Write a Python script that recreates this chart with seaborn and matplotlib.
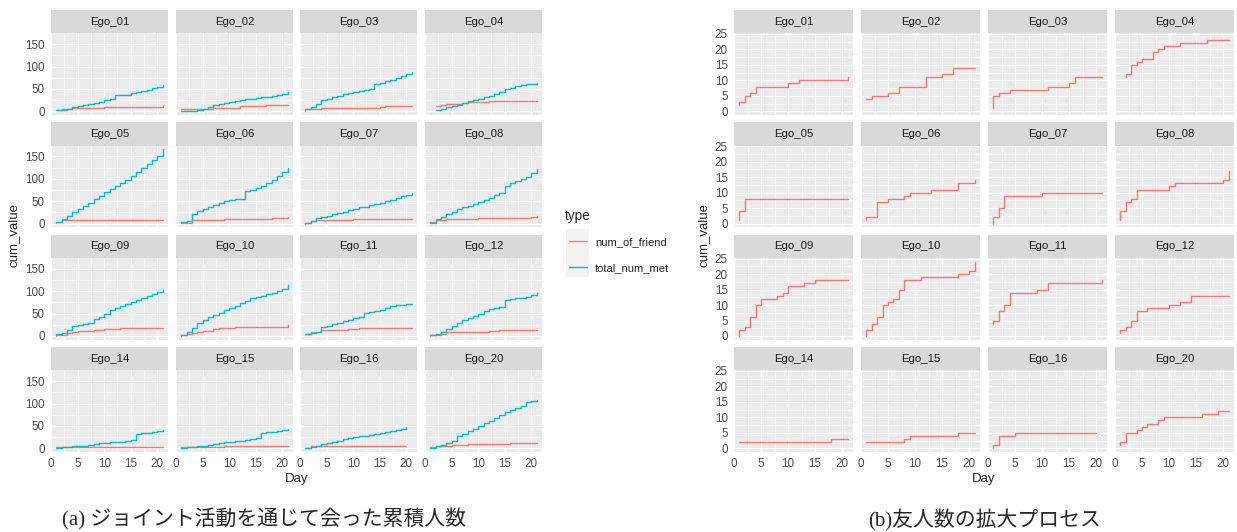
import numpy as np
import pandas as pd
import matplotlib
matplotlib.use('Agg')
import matplotlib.pyplot as plt
import seaborn as sns
from matplotlib.ticker import MultipleLocator
from matplotlib.lines import Line2D
from matplotlib.patches import Rectangle

nan = np.nan

egos = ['Ego_01', 'Ego_02', 'Ego_03', 'Ego_04', 'Ego_05', 'Ego_06', 'Ego_07', 'Ego_08',
        'Ego_09', 'Ego_10', 'Ego_11', 'Ego_12', 'Ego_14', 'Ego_15', 'Ego_16', 'Ego_20']
days = list(range(1, 22))

# 友人数: 初日の開始値 + 日ごとの累積値
friend_start = [2, 4, 1, 11, 1, 1, 0, 1, 0, 0, 4, 1, 2, 2, 0, 1]
friend_vals = [
    [3, 5, 6, 8, 8, 8, 8, 8, 8, 9, 9, 10, 10, 10, 10, 10, 10, 10, 10, 10, 11],
    [4, 5, 5, 5, 6, 6, 8, 8, 8, 8, 8, 11, 11, 11, 12, 12, 14, 14, 14, 14, 14],
    [5, 6, 6, 7, 7, 7, 7, 7, 7, 7, 8, 8, 8, 8, 9, 11, 11, 11, 11, 11, 11],
    [nan, 12, 15, 16, 17, 17, 19, 20, 21, 21, 21, 22, 22, 22, 22, 22, 23, 23, 23, 23, 23],
    [4, 8, 8, 8, 8, 8, 8, 8, 8, 8, 8, 8, 8, 8, 8, 8, 8, 8, 8, 8, 8],
    [2, 2, 7, 7, 8, 8, 8, 9, 10, 10, 10, 10, 11, 11, 11, 11, 11, 13, 13, 13, 14],
    [2, 5, 9, 9, 9, 9, 9, 9, 9, 10, 10, 10, 10, 10, 10, 10, 10, 10, 10, 10, 10],
    [4, 7, 8, 11, 11, 11, 11, 11, 11, 12, 13, 13, 13, 13, 13, 13, 13, 13, 13, 14, 17],
    [2, 3, 6, 10, 12, 12, 12, 13, 14, 16, 16, 16, 17, 17, 18, 18, 18, 18, 18, 18, 18],
    [2, 4, 6, 10, 11, 12, 15, 18, 18, 18, 19, 19, 19, 19, 19, 19, 19, 20, 20, 21, 24],
    [5, 8, 10, 14, 14, 14, 14, 14, 15, 15, 17, 17, 17, 17, 17, 17, 17, 17, 17, 17, 18],
    [2, 3, 5, 8, 8, 9, 9, 9, 9, 10, 10, 11, 11, 13, 13, 13, 13, 13, 13, 13, 13],
    [2, 2, 2, 2, 2, 2, 2, 2, 2, 2, 2, 2, 2, 2, 2, 2, 2, 3, 3, 3, 3],
    [2, 2, 2, 2, 2, 2, 2, 3, 4, 4, 4, 4, 4, 4, 4, 4, 4, 5, 5, 5, 5],
    [1, 4, 4, 4, 5, 5, 5, 5, 5, 5, 5, 5, 5, 5, 5, 5, 5, 5, 5, 5, nan],
    [2, 5, 5, 6, 7, 8, 8, 9, 10, 10, 10, 10, 10, 10, 10, 11, 11, 11, 12, 12, 12],
]

# 会った累積人数
met_vals = [
    [2, 3, 5, 10, 12, 14, 16, 18, 21, 25, 28, 36, 37, 37, 40, 43, 45, 48, 51, 54, 58],
    [0, 1, 1, 2, 5, 10, 15, 17, 19, 21, 23, 25, 27, 28, 30, 32, 33, 35, 37, 39, 42],
    [4, 10, 17, 25, 28, 31, 34, 38, 40, 43, 45, 48, 50, 60, 63, 67, 70, 74, 78, 83, 88],
    [nan, 2, 5, 9, 12, 15, 18, 22, 26, 28, 31, 35, 38, 42, 50, 53, 56, 58, 60, 62, 64],
    [3, 10, 17, 25, 32, 40, 47, 55, 62, 70, 77, 84, 91, 98, 106, 116, 125, 134, 143, 152, 166],
    [4, 5, 22, 28, 33, 38, 42, 47, 50, 52, 54, 56, 72, 76, 80, 85, 90, 98, 106, 115, 125],
    [2, 6, 12, 15, 18, 21, 24, 27, 30, 33, 36, 38, 41, 44, 47, 50, 53, 57, 61, 64, 68],
    [2, 10, 15, 22, 27, 32, 36, 40, 44, 48, 53, 58, 63, 68, 85, 90, 95, 100, 105, 113, 123],
    [4, 6, 14, 22, 24, 26, 30, 37, 43, 50, 57, 62, 68, 71, 76, 80, 85, 90, 94, 98, 102],
    [2, 8, 18, 30, 36, 42, 47, 52, 57, 62, 68, 73, 78, 84, 87, 90, 93, 97, 101, 106, 115],
    [4, 7, 10, 20, 23, 26, 28, 33, 36, 40, 43, 52, 54, 56, 58, 62, 67, 69, 70, 71, 72],
    [2, 5, 10, 16, 22, 30, 35, 40, 45, 50, 55, 60, 63, 65, 80, 83, 85, 86, 88, 92, 96],
    [1, 2, 3, 4, 5, 6, 8, 10, 11, 12, 13, 14, 15, 16, 18, 32, 34, 35, 37, 38, 40],
    [1, 2, 3, 5, 6, 7, 9, 11, 13, 14, 16, 17, 18, 20, 22, 34, 36, 37, 39, 40, 42],
    [1, 3, 6, 9, 12, 14, 17, 21, 24, 26, 27, 28, 30, 32, 34, 36, 38, 40, 43, 47, nan],
    [1, 4, 7, 11, 16, 28, 33, 38, 44, 50, 56, 62, 68, 74, 80, 85, 89, 95, 104, 106, 109],
]

types = ['num_of_friend', 'total_num_met']
palette = {'num_of_friend': '#F8766D', 'total_num_met': '#00BFC4'}

# long形式に変換
rows = []
for ego, st, fv, mv in zip(egos, friend_start, friend_vals, met_vals):
    valid = [(d, v) for d, v in zip(days, fv) if not np.isnan(v)]
    rows.append((ego, 'num_of_friend', valid[0][0], st))
    rows += [(ego, 'num_of_friend', d, v) for d, v in valid]
    rows += [(ego, 'total_num_met', d, v) for d, v in zip(days, mv) if not np.isnan(v)]
df = pd.DataFrame(rows, columns=['ego', 'type', 'Day', 'cum_value'])

sns.set_theme(style='darkgrid')
plt.rcParams['font.family'] = ['Liberation Sans', 'Noto Sans CJK JP']

W, H = 1237, 532
fig = plt.figure(figsize=(W / 100, H / 100), dpi=100)


def add_px(x, y, w, h):
    return fig.add_axes([x / W, 1 - (y + h) / H, w / W, h / H])


row_top = [10, 122.3, 234.7, 347]
strip_h = 23.3
panel_h = 81.7


def expand(vals):
    lo, hi = np.nanmin(vals), np.nanmax(vals)
    pad = (hi - lo) * 0.05
    return lo - pad, hi + pad


def facet_grid(data, col_x, col_w, ystep):
    ylim = expand(data['cum_value'].values)
    for k, ego in enumerate(egos):
        r, c = divmod(k, 4)
        sax = add_px(col_x[c], row_top[r], col_w, strip_h)
        sax.set_facecolor('#D9D9D9')
        sax.set_xticks([])
        sax.set_yticks([])
        sax.grid(False)
        for s in sax.spines.values():
            s.set_visible(False)
        sax.text(0.5, 0.5, ego, ha='center', va='center', fontsize=8.2,
                 color='#1A1A1A', transform=sax.transAxes)

        ax = add_px(col_x[c], row_top[r] + strip_h, col_w, panel_h)
        sub = data[data['ego'] == ego]
        sns.lineplot(data=sub, x='Day', y='cum_value', hue='type', palette=palette,
                     hue_order=[t for t in types if t in sub['type'].unique()],
                     estimator=None, sort=False, drawstyle='steps-post',
                     linewidth=1.0, legend=False, ax=ax)
        ax.set_facecolor('#EBEBEB')
        ax.set_axisbelow(True)
        ax.set_xlim(0, 22)
        ax.set_ylim(*ylim)
        ax.xaxis.set_major_locator(MultipleLocator(5))
        ax.xaxis.set_minor_locator(MultipleLocator(2.5))
        ax.yaxis.set_major_locator(MultipleLocator(ystep))
        ax.yaxis.set_minor_locator(MultipleLocator(ystep / 2))
        ax.grid(which='major', color='white', linewidth=0.85)
        ax.grid(which='minor', color='white', linewidth=0.4)
        for s in ax.spines.values():
            s.set_visible(False)
        ax.set_xlabel('')
        ax.set_ylabel('')
        ax.tick_params(which='minor', length=0)
        ax.tick_params(which='major', length=3, width=0.8, color='#333333',
                       labelsize=8.4, labelcolor='#4D4D4D', pad=1.5)
        if c != 0:
            ax.tick_params(axis='y', length=0, labelleft=False)
        if r != 3:
            ax.tick_params(axis='x', length=0, labelbottom=False)


left_x = [51, 176, 300, 425]
right_x = [734, 861, 988, 1115]

facet_grid(df, left_x, 117, 50)
facet_grid(df[df['type'] == 'num_of_friend'], right_x, 119, 5)

# 軸タイトル
fig.text(14 / W, 1 - 235 / H, 'cum_value', rotation=90, ha='center', va='center', fontsize=9.5)
fig.text(297 / W, 1 - 479 / H, 'Day', ha='center', va='center', fontsize=9.5)
fig.text(704 / W, 1 - 235 / H, 'cum_value', rotation=90, ha='center', va='center', fontsize=9.5)
fig.text(984 / W, 1 - 479 / H, 'Day', ha='center', va='center', fontsize=9.5)

# 凡例
fig.add_artist(Rectangle((566 / W, 1 - 277 / H), 23 / W, 48 / H,
                         transform=fig.transFigure, facecolor='#F2F2F2',
                         edgecolor='none', zorder=0))
fig.text(565 / W, 1 - 216 / H, 'type', ha='left', va='center', fontsize=9.8)
handles = [Line2D([], [], color=palette[t], linewidth=1.0) for t in types]
leg = fig.legend(handles, types, loc='upper left',
                 bbox_to_anchor=(569 / W, 1 - 237 / H), frameon=False,
                 fontsize=8.0, handlelength=1.6, borderpad=0, borderaxespad=0,
                 labelspacing=1.45, handletextpad=0.75)

# キャプション
cap_font = ['Liberation Serif', 'Noto Sans CJK JP']
fig.text(62 / W, 1 - 519 / H, '(a) ジョイント活動を通じて会った累積人数',
         family=cap_font, fontsize=15, ha='left', va='center')
fig.text(868 / W, 1 - 520 / H, '(b)友人数の拡大プロセス',
         family=cap_font, fontsize=15, ha='left', va='center')

fig.savefig('out.png', dpi=100, facecolor='white')
